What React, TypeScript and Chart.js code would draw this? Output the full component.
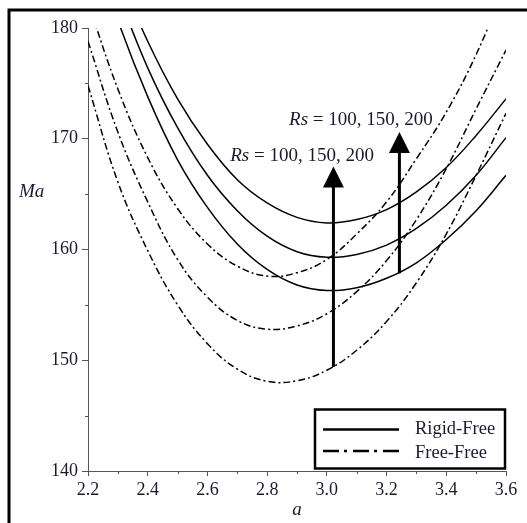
import React, { useEffect, useRef } from "react";
import { Chart, registerables } from "chart.js";

Chart.register(...registerables);

// wavenumber a
const aValues = [2.2, 2.3, 2.4, 2.5, 2.6, 2.7, 2.8, 2.9, 3.0, 3.1, 3.2, 3.3, 3.4, 3.5, 3.6];

// Rigid-Free (solid), Rs = 100, 150, 200
const rigidFree100 = [189.0, 180.7, 173.8, 168.1, 163.8, 160.5, 158.2, 156.8, 156.3, 156.55, 157.4, 158.8, 160.9, 163.5, 166.7];
const rigidFree150 = [191.0, 183.2, 176.4, 171.0, 166.7, 163.5, 161.2, 159.8, 159.3, 159.55, 160.4, 161.9, 164.0, 166.7, 170.1];
const rigidFree200 = [192.6, 185.1, 178.8, 173.6, 169.5, 166.3, 164.2, 162.9, 162.4, 162.7, 163.6, 165.2, 167.4, 170.3, 173.6];

// Free-Free (dash-dot), Rs = 100, 150, 200
const freeFree100 = [174.8, 166.1, 159.9, 155.0, 151.5, 149.2, 148.1, 148.15, 149.1, 150.9, 153.5, 157.0, 161.4, 166.7, 172.3];
const freeFree150 = [178.8, 170.6, 164.3, 159.1, 155.7, 153.6, 152.8, 153.1, 154.2, 156.2, 159.0, 162.7, 167.3, 172.7, 178.0];
const freeFree200 = [182.3, 174.5, 168.3, 163.7, 160.5, 158.5, 157.6, 157.9, 159.1, 161.4, 164.3, 168.2, 172.4, 177.6, 184.0];

// axes
const xMin = 2.2;
const xMax = 3.6;
const yMin = 140;
const yMax = 180;
const xMajorStep = 0.2;
const yMajorStep = 10;
const xMinorTicks = [2.3, 2.5, 2.7, 2.9, 3.1, 3.3, 3.5];
const yMinorTicks = [145, 155, 165, 175];

// arrows (a, Ma from, Ma to)
const arrowA = [3.022, 3.243];
const arrowFrom = [149.4, 157.85];
const arrowTo = [167.5, 170.6];
// labels "Rs = 100, 150, 200" (centre a, baseline Ma)
const labelA = [2.917, 3.114];
const labelMa = [167.98, 171.24];

const legendLabels = ["Rigid-Free", "Free-Free"];

const SERIF = "'Liberation Serif', 'Times New Roman', serif";
const TEXT = "#1a1a2e";
const AXIS = "#555555";
const PLOT_DASH = [7, 3, 2, 3];

function toXY(vals: number[]) {
  return aValues.map((a, i) => ({ x: a, y: vals[i] }));
}

const overlay = {
  id: "overlay",
  afterDraw(chart: any) {
    const { ctx, scales } = chart;
    const x = scales.x;
    const y = scales.y;
    ctx.save();

    // minor ticks
    ctx.strokeStyle = AXIS;
    ctx.lineWidth = 1;
    const xAxisY = y.getPixelForValue(yMin);
    const yAxisX = x.getPixelForValue(xMin);
    xMinorTicks.forEach((v) => {
      const px = Math.round(x.getPixelForValue(v)) + 0.5;
      ctx.beginPath();
      ctx.moveTo(px, xAxisY);
      ctx.lineTo(px, xAxisY + 3);
      ctx.stroke();
    });
    yMinorTicks.forEach((v) => {
      const py = Math.round(y.getPixelForValue(v)) + 0.5;
      ctx.beginPath();
      ctx.moveTo(yAxisX, py);
      ctx.lineTo(yAxisX - 3, py);
      ctx.stroke();
    });

    // arrows
    ctx.fillStyle = "#000";
    ctx.strokeStyle = "#000";
    arrowA.forEach((a, i) => {
      const px = x.getPixelForValue(a);
      const pFrom = y.getPixelForValue(arrowFrom[i]);
      const pTo = y.getPixelForValue(arrowTo[i]);
      const head = 21;
      ctx.lineWidth = 3;
      ctx.beginPath();
      ctx.moveTo(px, pFrom);
      ctx.lineTo(px, pTo + head - 2);
      ctx.stroke();
      ctx.beginPath();
      ctx.moveTo(px, pTo);
      ctx.lineTo(px - 10.5, pTo + head);
      ctx.lineTo(px + 10.5, pTo + head);
      ctx.closePath();
      ctx.fill();
    });

    // Rs labels
    ctx.fillStyle = TEXT;
    ctx.textBaseline = "alphabetic";
    const fs = 19;
    labelA.forEach((a, i) => {
      const cx = x.getPixelForValue(a);
      const by = y.getPixelForValue(labelMa[i]);
      ctx.font = `italic ${fs}px ${SERIF}`;
      const w1 = ctx.measureText("Rs").width;
      ctx.font = `${fs}px ${SERIF}`;
      const rest = " = 100, 150, 200";
      const w2 = ctx.measureText(rest).width;
      const x0 = cx - (w1 + w2) / 2;
      ctx.font = `italic ${fs}px ${SERIF}`;
      ctx.textAlign = "left";
      ctx.fillText("Rs", x0, by);
      ctx.font = `${fs}px ${SERIF}`;
      ctx.fillText(rest, x0 + w1, by);
    });

    // axis titles
    ctx.font = `italic 19px ${SERIF}`;
    ctx.textAlign = "left";
    ctx.textBaseline = "middle";
    ctx.fillText("Ma", 19, y.getPixelForValue(165.2));
    ctx.textAlign = "center";
    ctx.textBaseline = "alphabetic";
    ctx.fillText("a", (x.left + x.right) / 2, 515);

    // legend box
    const lx = 315, ly = 409.5, lw = 190, lh = 59;
    ctx.lineWidth = 2.5;
    ctx.strokeStyle = "#000";
    ctx.setLineDash([]);
    ctx.strokeRect(lx, ly, lw, lh);
    // entries
    ctx.lineWidth = 2.5;
    ctx.beginPath();
    ctx.moveTo(323, 429.5);
    ctx.lineTo(399, 429.5);
    ctx.stroke();
    ctx.setLineDash([16, 5, 3, 6]);
    ctx.beginPath();
    ctx.moveTo(323, 451);
    ctx.lineTo(399, 451);
    ctx.stroke();
    ctx.setLineDash([]);
    ctx.font = `18.5px ${SERIF}`;
    ctx.textAlign = "left";
    ctx.fillStyle = TEXT;
    ctx.fillText(legendLabels[0], 415, 434);
    ctx.fillText(legendLabels[1], 415, 457.5);

    // outer frame (top and left)
    ctx.lineWidth = 3;
    ctx.strokeStyle = "#000";
    ctx.beginPath();
    ctx.moveTo(9, 523);
    ctx.lineTo(9, 10);
    ctx.lineTo(527, 10);
    ctx.stroke();

    ctx.restore();
  },
};

export default function App() {
  const ref = useRef<HTMLCanvasElement | null>(null);

  useEffect(() => {
    if (!ref.current) return;
    const solid = { borderColor: "#000", borderWidth: 1.5, pointRadius: 0, tension: 0.4, fill: false };
    const dashed = { ...solid, borderDash: PLOT_DASH };
    const chart = new Chart(ref.current, {
      type: "line",
      data: {
        datasets: [
          { label: "Rigid-Free Rs=100", data: toXY(rigidFree100), ...solid },
          { label: "Rigid-Free Rs=150", data: toXY(rigidFree150), ...solid },
          { label: "Rigid-Free Rs=200", data: toXY(rigidFree200), ...solid },
          { label: "Free-Free Rs=100", data: toXY(freeFree100), ...dashed },
          { label: "Free-Free Rs=150", data: toXY(freeFree150), ...dashed },
          { label: "Free-Free Rs=200", data: toXY(freeFree200), ...dashed },
        ],
      },
      options: {
        animation: false,
        responsive: false,
        devicePixelRatio: 1,
        layout: { padding: { left: 0, top: 28, right: 21, bottom: 0 } },
        plugins: { legend: { display: false }, tooltip: { enabled: false } },
        scales: {
          x: {
            type: "linear",
            min: xMin,
            max: xMax,
            afterFit: (s: any) => {
              s.height = 52;
              s.paddingLeft = 0;
              s.paddingRight = 0;
            },
            ticks: {
              stepSize: xMajorStep,
              autoSkip: false,
              maxRotation: 0,
              padding: 3,
              color: TEXT,
              font: { family: SERIF, size: 18 },
              callback: (v: any) => Number(v).toFixed(1),
            },
            grid: { display: true, drawOnChartArea: false, drawTicks: true, tickLength: 5, color: AXIS },
            border: { display: true, color: AXIS, width: 1 },
          },
          y: {
            type: "linear",
            min: yMin,
            max: yMax,
            afterFit: (s: any) => {
              s.width = 88;
              s.paddingTop = 0;
              s.paddingBottom = 0;
            },
            ticks: {
              stepSize: yMajorStep,
              autoSkip: false,
              padding: 4,
              color: TEXT,
              font: { family: SERIF, size: 18 },
              callback: (v: any) => String(v),
            },
            grid: { display: true, drawOnChartArea: false, drawTicks: true, tickLength: 6, color: AXIS },
            border: { display: true, color: AXIS, width: 1 },
          },
        },
      },
      plugins: [overlay],
    });
    return () => chart.destroy();
  }, []);

  return (
    <div style={{ position: "absolute", left: 0, top: 0, width: 527, height: 523, background: "#fff" }}>
      <canvas ref={ref} width={527} height={523} style={{ display: "block" }} />
    </div>
  );
}
